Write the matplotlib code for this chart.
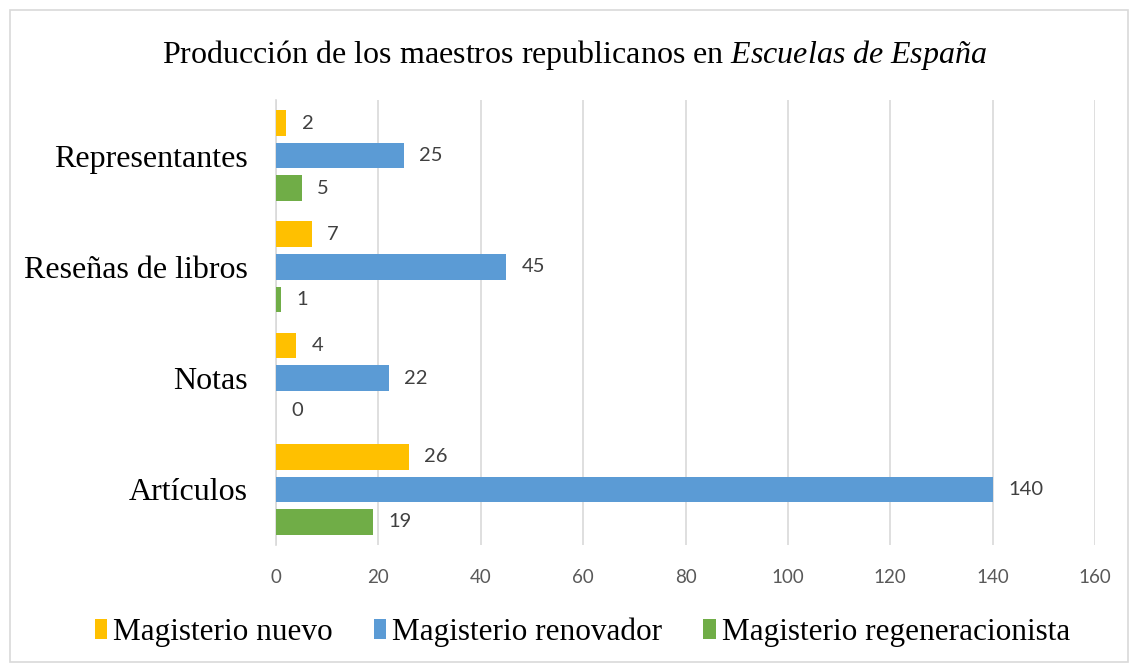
import matplotlib
matplotlib.use("Agg")
import matplotlib.pyplot as plt
from matplotlib.patches import Rectangle
import numpy as np

plt.rcParams["mathtext.fontset"] = "custom"
plt.rcParams["mathtext.it"] = "Liberation Serif:italic"
plt.rcParams["mathtext.rm"] = "Liberation Serif"

categories = ["Artículos", "Notas", "Reseñas de libros", "Representantes"]
series_names = ["Magisterio nuevo", "Magisterio renovador", "Magisterio regeneracionista"]
nuevo = [26, 4, 7, 2]
renovador = [140, 22, 45, 25]
regeneracionista = [19, 0, 1, 5]
xticks = [0, 20, 40, 60, 80, 100, 120, 140, 160]

colors = ["#FFC000", "#5B9BD5", "#70AD47"]
serif = ["Liberation Serif", "DejaVu Serif"]
sans = ["Lato", "DejaVu Sans"]

fig = plt.figure(figsize=(11.31, 6.66), dpi=100)
fig.patch.set_facecolor("white")
fig.add_artist(Rectangle((10/1131, 4/666), 1118/1131, 652/666, transform=fig.transFigure,
                         fill=False, edgecolor="#d9d9d9", linewidth=1.2))

ax = fig.add_axes([276/1131, 1-545/666, (1095-276)/1131, 445/666])
y = np.arange(len(categories))
h = 0.23
pitch = 0.293
data = [nuevo, renovador, regeneracionista]
offsets = [pitch, 0, -pitch]
for vals, off, c, name in zip(data, offsets, colors, series_names):
    bars = ax.barh(y + off, vals, height=h, color=c, label=name, zorder=3)
    for b, v in zip(bars, vals):
        ax.text(v + 3.0, b.get_y() + b.get_height()/2, str(v), va="center", ha="left",
                fontsize=14.5, color="#404040", family=sans)

ax.set_xlim(0, 160)
ax.set_ylim(-0.5, 3.5)
ax.set_xticks(xticks)
ax.set_xticklabels([str(t) for t in xticks], fontsize=13.5, color="#595959", family=sans)
ax.set_yticks(y)
ax.set_yticklabels(categories, fontsize=23, family=serif, color="black")
ax.tick_params(axis="x", length=0, pad=17)
ax.tick_params(axis="y", length=0, pad=20)
ax.grid(axis="x", color="#d9d9d9", linewidth=1.2, zorder=0)
for s in ["top", "right", "bottom"]:
    ax.spines[s].set_visible(False)
ax.spines["left"].set_color("#d9d9d9")
ax.spines["left"].set_linewidth(1.2)

fig.text(0.5 + 9/1131, 1-55/666, "Producción de los maestros republicanos en $\\mathit{Escuelas\\ de\\ España}$",
         ha="center", va="center", fontsize=23, family=serif)

leg = fig.legend(loc="center", bbox_to_anchor=(0.515, 1-632/666), ncol=3, frameon=False,
                 prop={"family": serif, "size": 22.5}, handlelength=0.4, handleheight=0.6,
                 handletextpad=0.2, columnspacing=1.3)
fig.savefig("out.png", dpi=100)
